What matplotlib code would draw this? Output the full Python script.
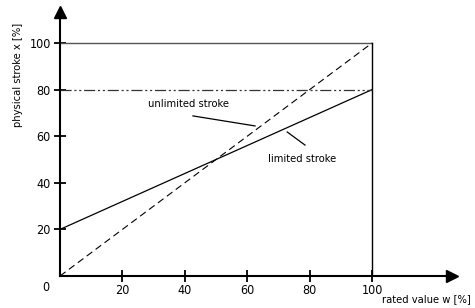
import matplotlib.pyplot as plt
import matplotlib as mpl

mpl.rcParams['lines.scale_dashes'] = False
plt.rcParams['font.family'] = ['DejaVu Sans']
plt.rcParams['font.stretch'] = 'condensed'

# Data
rated = [0, 100]
unlimited = [0, 100]
limited = [20, 80]
limit_level = 80
ticks = [20, 40, 60, 80, 100]

fig = plt.figure(figsize=(4.75, 3.08), dpi=100)
ax = fig.add_axes([60/475, 32/308, 392/475, 264/308])
ax.set_xlim(0, 125.6)
ax.set_ylim(0, 113.3)

for s in ['top', 'right']:
    ax.spines[s].set_visible(False)
ax.spines['left'].set_linewidth(1.5)
ax.spines['bottom'].set_linewidth(1.5)

# arrow heads
ax.plot(1, 0, '>k', ms=9, transform=ax.get_yaxis_transform(), clip_on=False)
ax.plot(0, 1, '^k', ms=9, transform=ax.get_xaxis_transform(), clip_on=False)

ax.set_xticks(ticks)
ax.set_yticks(ticks)
ax.tick_params(direction='inout', length=9, width=1.3, labelsize=9, pad=1)
ax.tick_params(axis='y', pad=2)
for lab in ax.get_xticklabels() + ax.get_yticklabels():
    lab.set_fontstretch('condensed')
ax.text(-3.5, -2, '0', ha='right', va='top', fontsize=9)

# frame
ax.plot([0, 100], [100, 100], color='#555555', lw=1.0)
ax.plot([100, 100], [0, 100], color='black', lw=1.0)

# curves
ax.plot(rated, unlimited, color='black', lw=0.8, dashes=(5, 3))
ax.plot(rated, limited, color='black', lw=0.9)
ax.plot(rated, [limit_level, limit_level], color='#333333', lw=0.9,
        dashes=(8, 2, 1.5, 2, 1.5, 2))

# labels
ax.text(41.3, 73.8, 'unlimited stroke', ha='center', va='center', fontsize=8)
ax.plot([42.6, 62.5], [68.7, 64.4], color='black', lw=0.9)
ax.text(77.7, 50.2, 'limited stroke', ha='center', va='center', fontsize=8)
ax.plot([72.8, 78.5], [61.8, 56.2], color='black', lw=0.9)

ax.text(-13.5, 86.3, 'physical stroke x [%]', rotation=90, ha='center', va='center', fontsize=8)
ax.text(117.5, -10, 'rated value w [%]', ha='center', va='center', fontsize=8, clip_on=False)

plt.savefig('out.png', dpi=100)
